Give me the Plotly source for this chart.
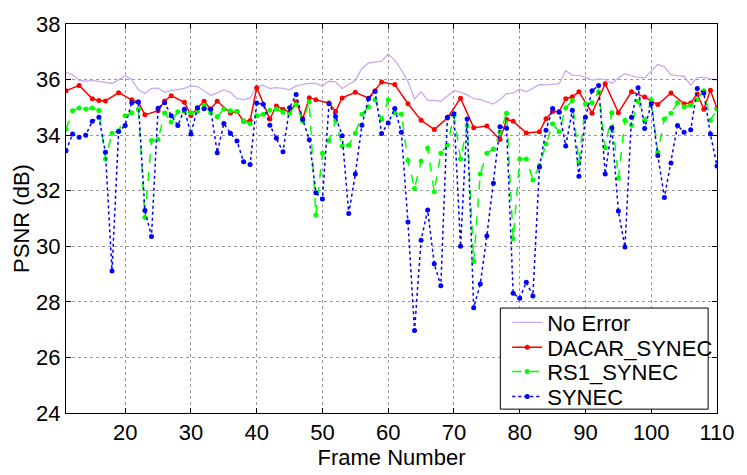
import plotly.graph_objects as go

frames = list(range(11, 111))

no_error = [
    36.27, 36.17, 35.97, 35.94, 35.97, 35.93, 35.88, 35.86, 35.99, 36.14,
    36.00, 35.63, 35.50, 35.68, 35.69, 35.54, 35.60, 35.63, 35.68, 35.77,
    35.75, 35.60, 35.43, 35.52, 35.63, 35.54, 35.31, 35.28, 35.33, 35.75,
    35.80, 35.68, 35.71, 35.68, 35.63, 35.77, 35.83, 35.86, 35.86, 35.77,
    35.94, 35.92, 35.68, 35.83, 35.97, 36.40, 36.60, 36.63, 36.66, 36.92,
    36.69, 36.35, 35.94, 35.30, 35.56, 35.25, 35.25, 35.22, 35.41, 35.60,
    35.55, 35.45, 35.31, 35.28, 35.20, 35.12, 35.28, 35.49, 35.51, 35.65,
    35.56, 35.70, 35.82, 35.81, 35.82, 35.85, 36.32, 36.15, 36.14, 36.09,
    35.98, 36.02, 36.00, 35.86, 36.06, 36.21, 36.14, 36.08, 36.06, 36.31,
    36.55, 36.46, 36.17, 36.14, 36.12, 35.80, 36.08, 36.08, 36.03, 35.98,
]

dacar_frames = [
    11, 13, 15, 16, 17, 19, 21, 22, 23, 25, 26, 27, 29, 30, 31, 32, 33, 34,
    36, 37, 38, 39, 40, 42, 43, 44, 45, 46, 47, 48, 49, 51, 52, 53, 55, 57,
    58, 59, 61, 63, 65, 67, 69, 71, 73, 75, 77, 78, 79, 81, 83, 84, 85, 86,
    87, 88, 89, 91, 93, 95, 97, 99, 101, 103, 105, 106, 107, 108, 109, 110,
]
dacar_synec = [
    35.60, 35.79, 35.31, 35.25, 35.23, 35.53, 35.27, 35.19, 34.73, 34.88,
    35.23, 35.42, 35.18, 34.71, 34.99, 35.22, 34.94, 35.22, 34.80, 34.85,
    34.50, 34.52, 35.71, 34.58, 35.05, 34.93, 34.82, 35.19, 34.59, 35.35,
    35.27, 35.16, 34.85, 35.34, 35.54, 35.33, 35.60, 35.91, 35.82, 35.13,
    34.54, 34.20, 34.62, 35.33, 34.27, 34.33, 33.84, 34.56, 34.50, 34.08,
    34.12, 34.59, 34.85, 34.85, 35.31, 35.38, 35.56, 34.79, 35.85, 34.81,
    35.56, 35.37, 35.10, 35.52, 35.13, 35.16, 35.48, 34.93, 35.62, 34.96,
]

rs1_synec = [
    34.21, 34.88, 34.98, 34.94, 34.98, 34.89, 33.14, 34.07, 34.15, 34.70,
    34.81, 34.93, 31.04, 33.81, 33.84, 34.80, 34.47, 34.84, 34.85, 34.81,
    34.85, 35.08, 34.81, 34.66, 34.94, 34.88, 34.85, 34.52, 34.41, 34.70,
    34.75, 34.90, 34.94, 34.82, 34.79, 35.10, 34.50, 35.19, 31.13, 33.35,
    33.81, 34.52, 33.61, 33.64, 34.07, 34.75, 35.02, 35.27, 34.56, 35.27,
    34.81, 34.75, 33.09, 32.08, 33.06, 33.54, 31.96, 33.35, 33.64, 34.71,
    33.14, 34.35, 29.46, 32.60, 33.35, 33.50, 34.10, 34.79, 30.27, 33.14,
    33.14, 32.39, 32.91, 33.69, 34.41, 34.12, 34.98, 35.25, 33.02, 35.13,
    35.17, 35.56, 33.55, 34.81, 32.45, 34.54, 34.36, 35.22, 34.52, 35.27,
    33.38, 34.58, 34.79, 35.17, 35.02, 35.08, 35.27, 35.60, 34.54, 34.93,
]

synec = [
    33.44, 34.04, 33.92, 34.00, 34.50, 34.64, 33.38, 29.11, 34.13, 34.35,
    35.17, 35.19, 31.29, 30.35, 34.97, 35.17, 34.70, 34.35, 34.93, 34.04,
    34.98, 34.95, 34.93, 33.37, 34.42, 34.07, 33.79, 33.04, 32.94, 35.16,
    35.11, 34.36, 33.89, 33.40, 34.99, 35.46, 34.56, 33.83, 31.93, 31.70,
    35.13, 34.67, 33.98, 31.18, 32.60, 34.36, 35.31, 35.57, 34.06, 34.44,
    34.96, 34.10, 30.87, 26.97, 30.22, 31.31, 29.37, 28.58, 34.64, 34.77,
    30.00, 34.58, 27.79, 28.64, 30.37, 32.27, 34.30, 34.25, 28.31, 28.13,
    28.71, 28.21, 32.85, 34.18, 34.96, 34.82, 33.61, 34.90, 32.52, 34.64,
    35.60, 35.79, 32.60, 34.27, 31.27, 29.97, 34.64, 35.71, 34.24, 35.13,
    33.27, 31.76, 33.00, 34.35, 34.10, 34.19, 35.68, 35.52, 34.04, 32.89,
]

x_ticks = list(range(20, 111, 10))
y_ticks = list(range(24, 39, 2))
series_names = ["No Error", "DACAR_SYNEC", "RS1_SYNEC", "SYNEC"]

FONT = "Liberation Sans, Arial, Helvetica, sans-serif"

fig = go.Figure()
fig.add_trace(go.Scatter(x=frames, y=no_error, mode="lines", name=series_names[0],
                         legend="legend",
                         line=dict(color="#c8aaf0", width=1.3)))
fig.add_trace(go.Scatter(x=dacar_frames, y=dacar_synec, mode="lines+markers", name=series_names[1],
                         legend="legend2",
                         line=dict(color="#ff0000", width=1.5),
                         marker=dict(color="#ff0000", size=5)))
fig.add_trace(go.Scatter(x=frames, y=rs1_synec, mode="lines+markers", name=series_names[2],
                         legend="legend3",
                         line=dict(color="#00ff00", width=1.5, dash="dash"),
                         marker=dict(color="#00ff00", size=5)))
fig.add_trace(go.Scatter(x=frames, y=synec, mode="lines+markers", name=series_names[3],
                         legend="legend4",
                         line=dict(color="#0000ff", width=1.5, dash="dot"),
                         marker=dict(color="#0000ff", size=5)))

axis_common = dict(
    showline=True, linecolor="black", linewidth=1, mirror="allticks",
    ticks="inside", ticklen=5, tickcolor="black", tickwidth=1,
    showgrid=True, gridcolor="#9a9a9a", griddash="dot", gridwidth=1,
    zeroline=False, tickfont=dict(family=FONT, size=22, color="black"),
)

# legend box (one box around four single-item legends)
plot_bottom_px = 475 - 52
plot_h = 404.0
plot_w = 661.0
box_left, box_right, box_top, box_bottom = 507, 718, 314, 419
row_centers = [329, 355, 380, 406]

def px_x(p):
    return (p - 66) / plot_w

def px_y(p):
    return (plot_bottom_px - p) / plot_h

legend_style = dict(xanchor="left", yanchor="middle", bgcolor="rgba(0,0,0,0)",
                    borderwidth=0,
                    font=dict(family=FONT, size=22, color="black"),
                    itemwidth=30)
legends = {}
for i, yc in enumerate(row_centers):
    key = "legend" if i == 0 else f"legend{i + 1}"
    legends[key] = dict(x=px_x(box_left + 7), y=px_y(yc), **legend_style)

fig.update_layout(
    width=747, height=475,
    margin=dict(l=66, r=20, t=19, b=52),
    paper_bgcolor="white", plot_bgcolor="white",
    font=dict(family=FONT, size=22, color="black"),
    xaxis=dict(range=[11, 110], tickmode="array", tickvals=x_ticks,
               title=dict(text="Frame Number", standoff=2,
                          font=dict(family=FONT, size=22, color="black")),
               **axis_common),
    yaxis=dict(range=[24, 38], tickmode="array", tickvals=y_ticks,
               title=dict(text="PSNR (dB)", standoff=0,
                          font=dict(family=FONT, size=22, color="black")),
               **axis_common),
    showlegend=True,
    shapes=[dict(type="rect", xref="paper", yref="paper",
                 x0=px_x(box_left), x1=px_x(box_right),
                 y0=px_y(box_bottom), y1=px_y(box_top),
                 line=dict(color="black", width=1), fillcolor="white",
                 layer="above")],
    **legends,
)

fig.write_html("out.html")
